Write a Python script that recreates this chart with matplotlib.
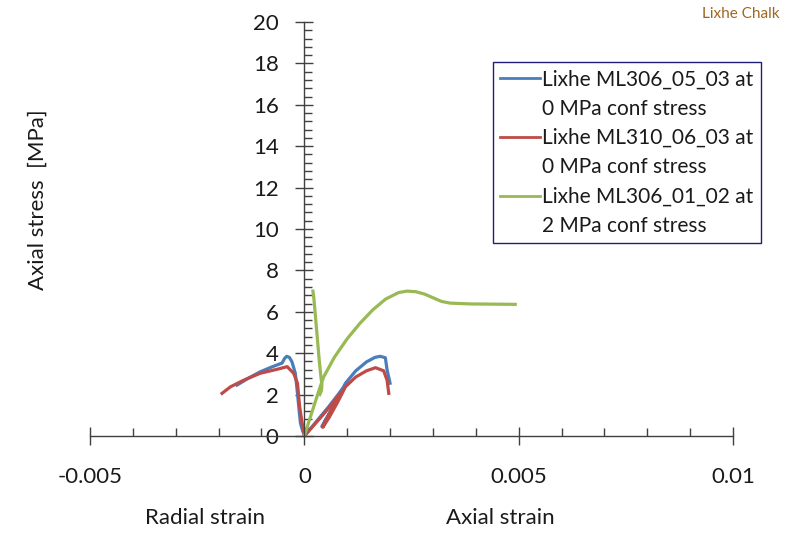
import matplotlib
matplotlib.use('Agg')
import matplotlib.pyplot as plt
from matplotlib.lines import Line2D
from matplotlib.ticker import MultipleLocator, FuncFormatter

# ML306_05_03, 0 MPa confining stress
blue_rad_x = [-0.00157, -0.00130, -0.00103, -0.00080, -0.00064, -0.00052, -0.00046, -0.00041,
              -0.00035, -0.00029, -0.00021, -0.00016, -0.00012, -0.00009, -0.00004, 0.0]
blue_rad_y = [2.46, 2.80, 3.10, 3.30, 3.43, 3.52, 3.75, 3.85,
              3.80, 3.59, 3.03, 2.06, 1.20, 0.61, 0.25, 0.05]
blue_ax_x = [0.0, 0.00030, 0.00057, 0.00088, 0.00070, 0.00050, 0.00041, 0.00055,
             0.00075, 0.00096, 0.00120, 0.00145, 0.00165, 0.00177, 0.00189, 0.00193, 0.00200]
blue_ax_y = [0.0, 0.75, 1.42, 2.25, 1.50, 0.80, 0.45, 0.95,
             1.75, 2.55, 3.15, 3.58, 3.80, 3.85, 3.78, 3.20, 2.55]

# ML310_06_03, 0 MPa confining stress
red_rad_x = [-0.00192, -0.00172, -0.00141, -0.00103, -0.00064, -0.00040,
             -0.00025, -0.00016, -0.00011, -0.00005, 0.0]
red_rad_y = [2.06, 2.38, 2.70, 3.03, 3.22, 3.35,
             3.03, 2.55, 1.42, 0.61, 0.05]
red_ax_x = [0.0, 0.00030, 0.00057, 0.00085, 0.00068, 0.00050, 0.00043, 0.00058,
            0.00078, 0.00096, 0.00120, 0.00145, 0.00166, 0.00185, 0.00193, 0.00197]
red_ax_y = [0.0, 0.70, 1.35, 2.10, 1.40, 0.75, 0.42, 0.90,
            1.65, 2.38, 2.85, 3.15, 3.30, 3.15, 2.70, 2.06]

# ML306_01_02, 2 MPa confining stress
green_rad_x = [0.00020, 0.00022, 0.00025, 0.00030, 0.00035, 0.00039, 0.00041, 0.00040, 0.00036]
green_rad_y = [7.00, 6.70, 6.00, 4.80, 3.60, 2.80, 2.50, 2.20, 2.00]
green_ax_x = [0.0, 0.00020, 0.00037, 0.00045, 0.00070, 0.00100, 0.00130, 0.00160, 0.00190,
              0.00220, 0.00240, 0.00260, 0.00280, 0.00300, 0.00320, 0.00340, 0.00387,
              0.00440, 0.00492]
green_ax_y = [0.0, 1.30, 2.38, 2.85, 3.80, 4.70, 5.45, 6.10, 6.62,
              6.93, 7.00, 6.97, 6.86, 6.68, 6.50, 6.42, 6.38,
              6.37, 6.36]

labels = ['Lixhe ML306_05_03 at', '0 MPa conf stress',
          'Lixhe ML310_06_03 at', '0 MPa conf stress',
          'Lixhe ML306_01_02 at', '2 MPa conf stress']

blue = '#4a7ebb'
red = '#be4b48'
green = '#98b954'
font = 'Lato'

fig = plt.figure(figsize=(7.91, 5.34), dpi=100)
ax = fig.add_axes([90/791, 1-436/534, 643/791, 414/534])

ax.plot(blue_rad_x, blue_rad_y, color=blue, lw=2.3)
ax.plot(blue_ax_x, blue_ax_y, color=blue, lw=2.3)
ax.plot(red_rad_x, red_rad_y, color=red, lw=2.3)
ax.plot(red_ax_x, red_ax_y, color=red, lw=2.3)
ax.plot(green_rad_x, green_rad_y, color=green, lw=2.3)
ax.plot(green_ax_x, green_ax_y, color=green, lw=2.3)

ax.set_xlim(-0.005, 0.01)
ax.set_ylim(0, 20)
ax.spines['left'].set_position(('data', 0))
ax.spines['bottom'].set_position(('data', 0))
ax.spines['top'].set_visible(False)
ax.spines['right'].set_visible(False)
for s in ['left', 'bottom']:
    ax.spines[s].set_color('#404040')
    ax.spines[s].set_linewidth(1.0)

ax.xaxis.set_major_locator(MultipleLocator(0.005))
ax.xaxis.set_minor_locator(MultipleLocator(0.001))
ax.yaxis.set_major_locator(MultipleLocator(2))
ax.yaxis.set_minor_locator(MultipleLocator(0.4))
ax.xaxis.set_major_formatter(FuncFormatter(lambda v, p: '0' if abs(v) < 1e-12 else ('%g' % v)))

ax.tick_params(which='major', direction='inout', length=13, width=1.0, color='#404040',
               labelsize=16, pad=12, labelcolor='#1a1a1a')
ax.tick_params(which='minor', direction='in', length=6, width=1.0, color='#404040')
ax.tick_params(axis='x', which='major', pad=16)
for t in ax.get_xticklabels() + ax.get_yticklabels():
    t.set_fontfamily(font)

fig.text(38/791, 1-200/534, 'Axial stress  [MPa]', rotation=90, ha='center', va='center',
         fontsize=16, family=font, color='#1a1a1a')
fig.text(205/791, 1-518/534, 'Radial strain', ha='center', va='center', fontsize=16,
         family=font, color='#1a1a1a')
fig.text(500/791, 1-518/534, 'Axial strain', ha='center', va='center', fontsize=16,
         family=font, color='#1a1a1a')
fig.text(741/791, 1-14/534, 'Lixhe Chalk', ha='center', va='center', fontsize=11,
         family=font, color='#a0661e')

blank = Line2D([], [], color='none')
handles = [Line2D([], [], color=blue, lw=2), blank,
           Line2D([], [], color=red, lw=2), blank,
           Line2D([], [], color=green, lw=2), blank]
leg = fig.legend(handles, labels, loc='upper left', bbox_to_anchor=(493/791, 1-62/534),
                 bbox_transform=fig.transFigure, borderaxespad=0, fancybox=False,
                 prop={'family': font, 'size': 15}, handlelength=1.9, handletextpad=0.1,
                 labelspacing=0.45, borderpad=0.35, framealpha=1)
leg.get_frame().set_edgecolor('#1f1f7a')
leg.get_frame().set_linewidth(1.0)
for t in leg.get_texts():
    t.set_color('#1a1a1a')

fig.savefig('out.png', dpi=100)
